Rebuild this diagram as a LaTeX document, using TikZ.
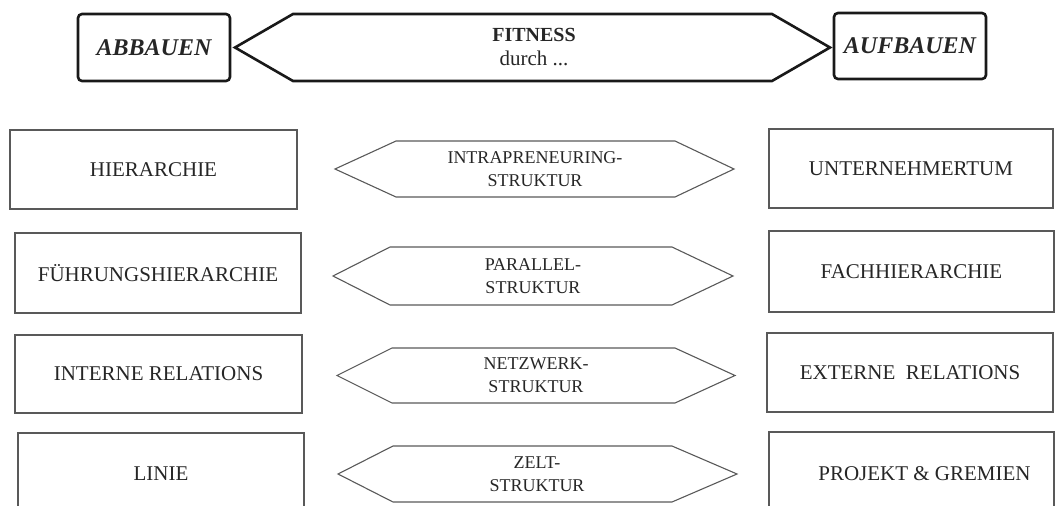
\documentclass[tikz,border=0pt]{standalone}
\usepackage{fontspec}
\setmainfont{Liberation Serif}
\begin{document}
\begin{tikzpicture}[x=1pt,y=-1pt,
  topbox/.style={draw=black!90, line width=2.6pt, rounded corners=4pt,
    inner sep=0pt, text=black!85,
    font=\fontsize{24}{28}\selectfont\bfseries\itshape},
  tophex/.style={draw=black!90, line width=2.6pt, line join=miter},
  toptext/.style={align=center, text=black!85, inner sep=0pt,
    font=\fontsize{21}{24}\selectfont},
  rowbox/.style={draw=black!65, line width=1.1pt, inner sep=0pt,
    text=black!85, font=\fontsize{21}{25}\selectfont},
  rowhex/.style={draw=black!65, line width=1.1pt, line join=miter},
  hextext/.style={align=center, inner sep=0pt, text=black!85,
    font=\fontsize{18}{23}\selectfont}
]
\useasboundingbox (0,0) rectangle (1058,506);

% headline: two goals joined by the central arrow
\node[topbox, minimum width=152pt, minimum height=67pt] (abbau) at (154,47.5) {ABBAUEN};
\node[topbox, minimum width=152pt, minimum height=66pt] (aufbau) at (910,46) {AUFBAUEN};
\draw[tophex] (235,47.5) -- (293,14) -- (772,14) -- (830,47.5) -- (772,81) -- (293,81) -- cycle;
\node[toptext] (fit) at (534,47)
  {{\fontsize{20}{24}\selectfont\bfseries FITNESS}\\durch ...};

% row 1
\node[rowbox, minimum width=287pt, minimum height=79pt] (l1) at (153.5,169.5) {HIERARCHIE};
\draw[rowhex] (335,169) -- (396,141) -- (675,141) -- (734,169) -- (675,197) -- (396,197) -- cycle;
\node[hextext] (h1) at (535,169) {INTRAPRENEURING-\\STRUKTUR};
\node[rowbox, minimum width=284pt, minimum height=79pt] (r1) at (911,168.5) {UNTERNEHMERTUM};

% row 2
\node[rowbox, minimum width=286pt, minimum height=80pt] (l2) at (158,273) {FÜHRUNGSHIERARCHIE};
\draw[rowhex] (333,276) -- (390,247) -- (672,247) -- (733,276) -- (672,305) -- (390,305) -- cycle;
\node[hextext] (h2) at (533,276) {PARALLEL-\\STRUKTUR};
\node[rowbox, minimum width=285pt, minimum height=81pt] (r2) at (911.5,271.5) {FACHHIERARCHIE};

% row 3
\node[rowbox, minimum width=287pt, minimum height=78pt] (l3) at (158.5,374) {INTERNE RELATIONS};
\draw[rowhex] (337,375.5) -- (392,348) -- (675,348) -- (735,375.5) -- (675,403) -- (392,403) -- cycle;
\node[hextext] (h3) at (536,375.5) {NETZWERK-\\STRUKTUR};
\node[rowbox, minimum width=286pt, minimum height=79pt] (r3) at (910,372.5) {EXTERNE\ \ RELATIONS};

% row 4
\node[rowbox, minimum width=286pt, minimum height=82pt] (l4) at (161,474) {LINIE};
\draw[rowhex] (338,474) -- (393,446) -- (672,446) -- (737,474) -- (672,502) -- (393,502) -- cycle;
\node[hextext] (h4) at (537,474) {ZELT-\\STRUKTUR};
\node[rowbox, minimum width=285pt, minimum height=84pt] (r4) at (911.5,474) {\hspace*{26pt}PROJEKT \& GREMIEN};
\end{tikzpicture}
\end{document}
